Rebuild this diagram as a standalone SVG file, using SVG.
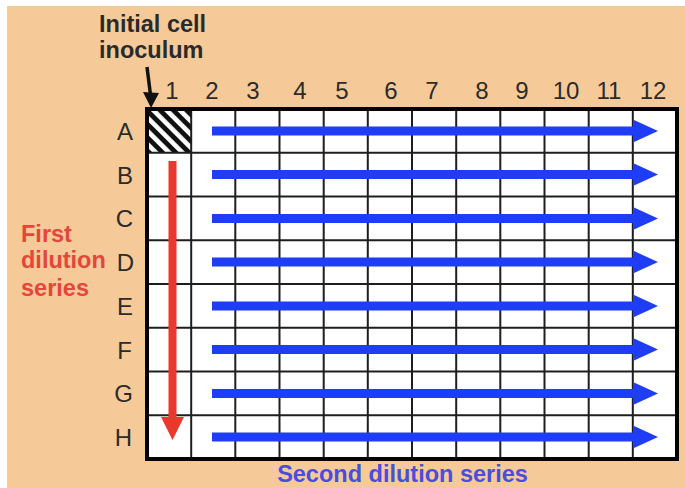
<svg xmlns="http://www.w3.org/2000/svg" width="685" height="488" viewBox="0 0 685 488">
<style>
.lbl{font-family:"Liberation Sans",Arial,sans-serif;font-size:24px;fill:#2b2b2b}
.bold{font-family:"Liberation Sans",Arial,sans-serif;font-weight:bold;font-size:23.5px}
.grid{stroke:#1e1e1e;stroke-width:2;fill:none}
.blue{fill:#1f3cf6}
</style>
<defs>
<pattern id="hatch" width="9.4" height="9.4" patternUnits="userSpaceOnUse" patternTransform="rotate(45)">
<rect width="9.4" height="9.4" fill="#fff"/>
<rect width="9.4" height="4.8" fill="#111"/>
</pattern>
<path id="barrow" class="blue" d="M212,-4.5 H634 V-11 L658,0 L634,11 V4.5 H212 Z"/>
</defs>
<rect width="685" height="488" fill="#fff"/>
<rect x="7" y="6" width="678" height="482" fill="#f6ca98"/>
<g id="plate">
<rect x="147" y="109" width="530" height="350" fill="#fff"/>
<rect x="147" y="109" width="44.17" height="43.75" fill="url(#hatch)"/>
<path class="grid" d="M191.2,109V459M235.3,109V459M279.5,109V459M323.7,109V459M367.8,109V459M412,109V459M456.2,109V459M500.3,109V459M544.5,109V459M588.7,109V459M632.8,109V459M147,152.75H677M147,196.5H677M147,240.25H677M147,284H677M147,327.75H677M147,371.5H677M147,415.25H677"/>
<rect x="147" y="109" width="530" height="350" fill="none" stroke="#000" stroke-width="4"/>
</g>
<g id="column-labels" class="lbl" text-anchor="middle">
<text x="172" y="99">1</text><text x="212" y="99">2</text><text x="253" y="99">3</text><text x="300" y="99">4</text><text x="342" y="99">5</text><text x="391" y="99">6</text><text x="432" y="99">7</text><text x="482" y="99">8</text><text x="522" y="99">9</text><text x="566" y="99">10</text><text x="609" y="99">11</text><text x="653" y="99">12</text>
</g>
<g id="row-labels" class="lbl" text-anchor="end">
<text x="133" y="140">A</text><text x="133" y="183.5">B</text><text x="133" y="227">C</text><text x="134" y="271">D</text><text x="133" y="314.5">E</text><text x="132" y="358.5">F</text><text x="133" y="402">G</text><text x="132" y="446">H</text>
</g>
<g id="inoculum-label">
<text class="bold" x="99" y="32" fill="#2a2a2a">Initial cell</text>
<text class="bold" x="99" y="58" fill="#2a2a2a">inoculum</text>
</g>
<g id="first-series-label" class="bold" fill="#e4463a">
<text x="21" y="242">First</text>
<text x="21" y="268">dilution</text>
<text x="21" y="296">series</text>
</g>
<g id="second-series-label">
<text class="bold" x="402.5" y="482" text-anchor="middle" fill="#4a4edc">Second dilution series</text>
</g>
<g id="connectors">
<path d="M147,67 L150.5,95" stroke="#111" stroke-width="3.5" fill="none"/>
<path d="M143,92 L159,93 L151,108 Z" fill="#111"/>
<path d="M168.5,161 H176.5 V417 H184 L172.5,440 L161,417 H168.5 Z" fill="#e8392a"/>
<use href="#barrow" y="130.9"/>
<use href="#barrow" y="174.6"/>
<use href="#barrow" y="218.4"/>
<use href="#barrow" y="262.1"/>
<use href="#barrow" y="305.9"/>
<use href="#barrow" y="349.6"/>
<use href="#barrow" y="393.4"/>
<use href="#barrow" y="437.1"/>
</g>
</svg>
